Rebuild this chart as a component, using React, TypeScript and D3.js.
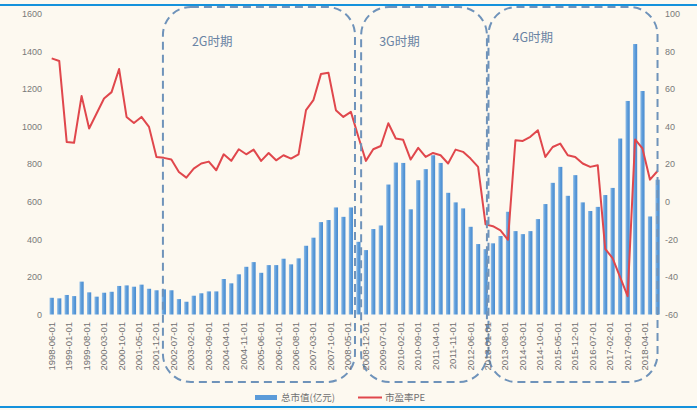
import React from 'react';
import * as d3 from 'd3';

const W = 697;
const H = 410;

const startDate = '1998-06-01';
const tickLabels = [
  '1998-06-01', '1999-01-01', '1999-08-01', '2000-03-01', '2000-10-01', '2001-05-01', '2001-12-01',
  '2002-07-01', '2003-02-01', '2003-09-01', '2004-04-01', '2004-11-01', '2005-06-01', '2006-01-01',
  '2006-08-01', '2007-03-01', '2007-10-01', '2008-05-01', '2008-12-01', '2009-07-01', '2010-02-01',
  '2010-09-01', '2011-04-01', '2011-11-01', '2012-06-01', '2013-01-01', '2013-08-01', '2014-03-01',
  '2014-10-01', '2015-05-01', '2015-12-01', '2016-07-01', '2017-02-01', '2017-09-01', '2018-04-01',
];

// 总市值(亿元), quarterly from 1998-06
const marketCap = [
  89, 86, 104, 98, 175, 118, 95, 116, 121, 152, 155, 148, 159, 137, 129, 134, 129, 82, 68, 100,
  113, 123, 123, 189, 166, 214, 254, 279, 222, 263, 263, 297, 267, 299, 366, 409, 492, 503, 570, 520,
  570, 387, 343, 455, 474, 692, 809, 807, 560, 715, 774, 848, 807, 648, 597, 565, 467, 375, 348, 379,
  418, 547, 444, 428, 444, 508, 588, 701, 786, 632, 742, 597, 551, 573, 636, 674, 937, 1137, 1440, 1190,
  522, 718,
];

// 市盈率PE, quarterly from 1998-06
const pe = [
  76.4, 75, 31.9, 31.4, 56.4, 39, 47, 55, 58.4, 70.7, 45.2, 42, 45.2, 39.9, 23.9, 23.4, 22.5, 15.9, 12.9, 17.7,
  20.4, 21.4, 16.8, 25.3, 21.8, 28, 25.3, 27.8, 21.8, 26, 22.1, 24.8, 23, 25.3, 48.8, 54.1, 68, 68.7, 48.8, 45.2,
  47.9, 34.5, 21.8, 28, 29.7, 41.8, 33.7, 33, 22.5, 28.7, 23.9, 26, 24.8, 20.4, 27.8, 26.6, 23, 18.6, -12, -13,
  -15.2, -20.2, 32.8, 32.4, 34.6, 38.1, 23.9, 29.2, 31, 24.8, 23.9, 20.4, 18.6, 19.5, -25, -30, -40.1, -50.2, 33.2, 28.4,
  11.8, 16.4,
];

const leftTicks = [0, 200, 400, 600, 800, 1000, 1200, 1400, 1600];
const rightTicks = [-60, -40, -20, 0, 20, 40, 60, 80, 100];

const periodLabels = ['2G时期', '3G时期', '4G时期'];
const periodStart = ['2002-02-18', '2008-10-04', '2013-01-06'];
const periodEnd = ['2008-07-21', '2012-12-18', '2018-09-01'];
const periodLabelDx = [29, 18, 24];
const periodLabelY = [46, 46, 42];

const legendNames = ['总市值(亿元)', '市盈率PE'];

const parse = d3.timeParse('%Y-%m-%d');

export default function App() {
  const t0 = parse(startDate) as Date;
  const tEnd = parse(tickLabels[tickLabels.length - 1]) as Date;
  const x = d3.scaleTime().domain([t0, tEnd]).range([51.7, 645]);
  const yL = d3.scaleLinear().domain([0, 1600]).range([314.5, 14]);
  const yR = d3.scaleLinear().domain([-60, 100]).range([314.5, 14]);

  const dates = marketCap.map((_, i) => d3.timeMonth.offset(t0, 3 * i));
  const barW = 4.2;

  const line = d3
    .line<number>()
    .x((_, i) => x(dates[i]))
    .y((d) => yR(d));

  const boxTop = 7;
  const boxBottom = 382;
  const r = 28;

  const font = '"Liberation Sans", Arial, "Noto Sans CJK SC", sans-serif';

  return (
    <svg
      width={W}
      height={H}
      style={{ position: 'absolute', left: 0, top: 0, display: 'block' }}
      fontFamily={font}
    >
      <rect x={0} y={0} width={W} height={H} fill="#fdf9f0" />
      <rect x={0} y={4} width={W} height={2} fill="#1592dc" />
      <rect x={0} y={406} width={W} height={2} fill="#1592dc" />

      {/* bars */}
      <defs>
        <linearGradient id="barGrad" x1="0" x2="1" y1="0" y2="0">
          <stop offset="0" stopColor="#8fbde8" />
          <stop offset="0.5" stopColor="#5b9bd9" />
          <stop offset="1" stopColor="#4a8cd0" />
        </linearGradient>
      </defs>
      {marketCap.map((v, i) => (
        <rect
          key={i}
          x={x(dates[i]) - barW / 2}
          y={yL(v)}
          width={barW}
          height={yL(0) - yL(v)}
          fill="url(#barGrad)"
        />
      ))}

      {/* line */}
      <path d={line(pe) || ''} fill="none" stroke="#e0474c" strokeWidth={2} strokeLinejoin="round" />

      {/* period boxes */}
      {periodLabels.map((lab, k) => {
        const x0 = x(parse(periodStart[k]) as Date);
        const x1 = x(parse(periodEnd[k]) as Date);
        return (
          <g key={lab}>
            <rect
              x={x0}
              y={boxTop}
              width={x1 - x0}
              height={boxBottom - boxTop}
              rx={r}
              ry={r}
              fill="none"
              stroke="#6f93ba"
              strokeWidth={2}
              strokeDasharray="8 5"
            />
            <text
              x={x0 + periodLabelDx[k]}
              y={periodLabelY[k]}
              fontSize={12.5}
              fill="#6a84a4"
              fontFamily='"Noto Sans CJK SC", sans-serif'
            >
              {lab}
            </text>
          </g>
        );
      })}

      {/* left axis */}
      {leftTicks.map((t) => (
        <text key={t} x={42} y={yL(t)} dy="0.35em" textAnchor="end" fontSize={9} fill="#7a7a7a">
          {t}
        </text>
      ))}
      {/* right axis */}
      {rightTicks.map((t) => (
        <text key={t} x={665} y={yR(t)} dy="0.35em" textAnchor="start" fontSize={9} fill="#7a7a7a">
          {t}
        </text>
      ))}

      {/* x labels */}
      {tickLabels.map((s) => {
        const px = x(parse(s) as Date);
        return (
          <text
            key={s}
            transform={`translate(${px + 3},${322}) rotate(-90)`}
            textAnchor="end"
            fontSize={9.5}
            fill="#707070"
          >
            {s}
          </text>
        );
      })}

      {/* legend */}
      <rect x={255} y={395} width={22} height={5} fill="#5b9bd9" />
      <text x={281} y={397.5} dy="0.35em" fontSize={9.5} fill="#707070" fontFamily='"Noto Sans CJK SC", sans-serif'>
        {legendNames[0]}
      </text>
      <line x1={358} x2={382} y1={397.5} y2={397.5} stroke="#e0474c" strokeWidth={2} />
      <text x={385} y={397.5} dy="0.35em" fontSize={9.5} fill="#707070" fontFamily='"Noto Sans CJK SC", sans-serif'>
        {legendNames[1]}
      </text>
    </svg>
  );
}
